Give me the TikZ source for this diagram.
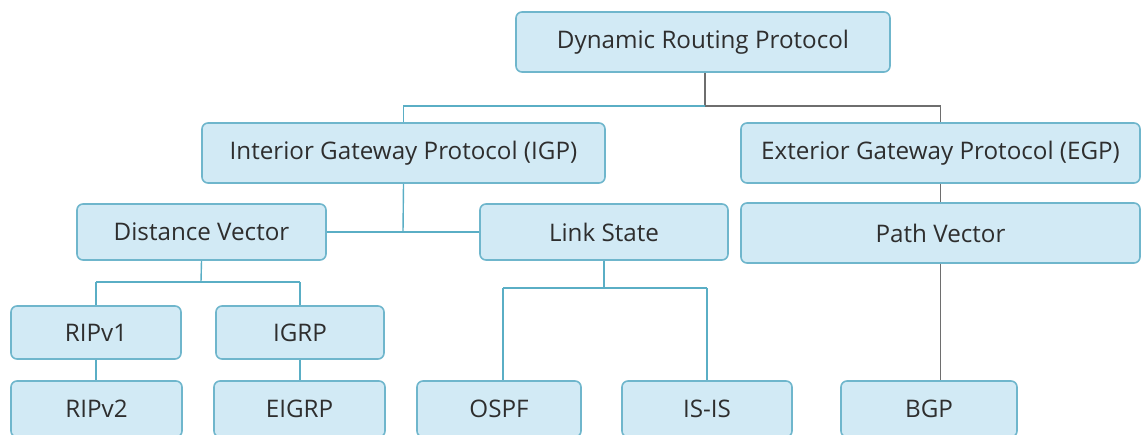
\documentclass[tikz,border=0pt]{standalone}
\usepackage{fontspec}
\setmainfont{Open Sans}
\definecolor{boxfill}{HTML}{D2EAF5}
\definecolor{boxline}{HTML}{6FB6CC}
\definecolor{tealline}{HTML}{5AAEC5}
\definecolor{greyline}{HTML}{6E6E6E}
\definecolor{txt}{HTML}{2E2E2E}
\tikzset{
  box/.style={draw=boxline, line width=1.6pt, fill=boxfill, rounded corners=6pt,
    inner sep=0pt, text=txt, font=\fontsize{24.2}{28}\selectfont},
  tline/.style={draw=tealline, line width=1.4pt},
  gline/.style={draw=greyline, line width=1.4pt},
}
\begin{document}
\begin{tikzpicture}[x=1pt,y=-1pt]
\useasboundingbox (0,0) rectangle (1141,434);
\clip (0,0) rectangle (1141,434);
% nodes
\node[box, minimum width=374pt, minimum height=60pt] (drp) at (703,42) {Dynamic Routing Protocol};
\node[box, minimum width=403pt, minimum height=60pt] (igp) at (403.5,153) {Interior Gateway Protocol (IGP)};
\node[box, minimum width=399pt, minimum height=60pt] (egp) at (940.5,153) {Exterior Gateway Protocol (EGP)};
\node[box, minimum width=249pt, minimum height=56pt] (dv) at (201.5,232) {Distance Vector};
\node[box, minimum width=248pt, minimum height=56pt] (ls) at (604,232) {Link State};
\node[box, minimum width=399pt, minimum height=60pt] (pv) at (940.5,233) {Path Vector};
\node[box, minimum width=170pt, minimum height=53pt] (rip1) at (96,332.5) {RIPv1};
\node[box, minimum width=168pt, minimum height=53pt] (igrp) at (300,332.5) {IGRP};
\node[box, minimum width=171pt, minimum height=56pt] (rip2) at (96.5,409) {RIPv2};
\node[box, minimum width=171pt, minimum height=56pt] (eigrp) at (299.5,409) {EIGRP};
\node[box, minimum width=164pt, minimum height=56pt] (ospf) at (499,409) {OSPF};
\node[box, minimum width=170pt, minimum height=56pt] (isis) at (707,409) {IS-IS};
\node[box, minimum width=176pt, minimum height=56pt] (bgp) at (929,409) {BGP};
% junction coordinates
\coordinate (j0) at (705,106);
\coordinate (j1) at (403,232);
\coordinate (j2) at (201,282);
\coordinate (j3) at (604,288);
% connectors
\draw[gline] (drp.south -| j0) -- (j0) -- (j0 -| egp.north) -- (egp.north);
\draw[tline] (j0) -- (j0 -| igp.north) -- (igp.north);
\draw[tline] (igp.south) -- (j1);
\draw[tline] (dv.east) -- (ls.west);
\draw[gline] (egp.south) -- (pv.north);
\draw[gline] (pv.south -| egp.south) -- (bgp.north -| egp.south);
\draw[tline] (dv.south) -- (j2);
\draw[tline] (j2 -| rip1.north) -- (j2 -| igrp.north);
\draw[tline] (j2 -| rip1.north) -- (rip1.north);
\draw[tline] (j2 -| igrp.north) -- (igrp.north);
\draw[tline] (rip1.south) -- (rip1.south |- rip2.north);
\draw[tline] (igrp.south) -- (igrp.south |- eigrp.north);
\draw[tline] (ls.south) -- (j3);
\draw[tline] (j3 -| 503,0) -- (j3 -| 707,0);
\draw[tline] (j3 -| 503,0) -- (ospf.north -| 503,0);
\draw[tline] (j3 -| isis.north) -- (isis.north);
\end{tikzpicture}
\end{document}
